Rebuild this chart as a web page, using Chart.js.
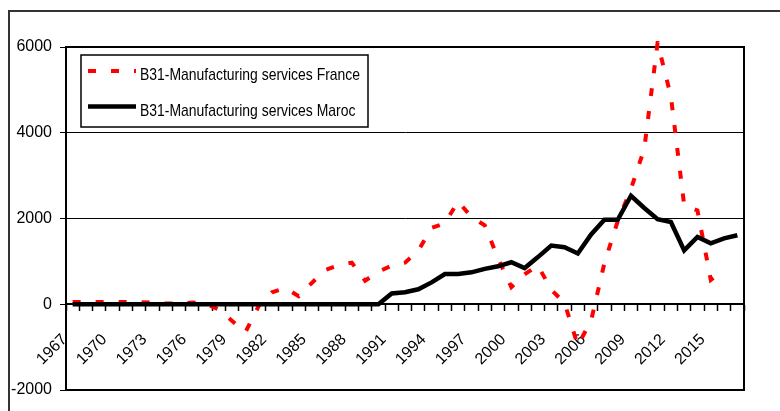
<!DOCTYPE html>
<html>
<head>
<meta charset="utf-8">
<script src="https://cdn.jsdelivr.net/npm/chart.js@4.4.0/dist/chart.umd.min.js"></script>
<style>
  html, body { margin: 0; padding: 0; background: #fff; overflow: hidden; }
  #wrap { position: relative; width: 780px; height: 411px; }
  #frame { position: absolute; left: 8px; top: 10px; width: 800px; height: 420px; border: 2px solid #333; pointer-events: none; }
  canvas { position: absolute; left: 0; top: 0; }
</style>
</head>
<body>
<div id="wrap">
  <canvas id="chart" width="780" height="411"></canvas>
  <div id="frame"></div>
</div>
<script>
// categories: one per year
const years = [
  '1967', '1968', '1969', '1970', '1971', '1972', '1973', '1974', '1975', '1976',
  '1977', '1978', '1979', '1980', '1981', '1982', '1983', '1984', '1985', '1986',
  '1987', '1988', '1989', '1990', '1991', '1992', '1993', '1994', '1995', '1996',
  '1997', '1998', '1999', '2000', '2001', '2002', '2003', '2004', '2005', '2006',
  '2007', '2008', '2009', '2010', '2011', '2012', '2013', '2014', '2015', '2016',
  '2017'
];

// only every third year gets a label on the axis
const shownYears = ['1967', '1970', '1973', '1976', '1979', '1982', '1985', '1988', '1991',
  '1994', '1997', '2000', '2003', '2006', '2009', '2012', '2015'];

const france = [
  50, 50, 50, 50, 50, 50, 40, 20, 10, 40,
  10, -120, -390, -650, -40, 280, 380, 190, 500, 800,
  910, 970, 550, 760, 900, 970, 1250, 1780, 1890, 2400,
  2030, 1840, 1070, 400, 700, 900, 340, 30, -960, -380,
  960, 1940, 2690, 3630, 6100, 4850, 2310, 2190, 570, 810,
  null
];

const maroc = [
  0, 0, 0, 0, 0, 0, 0, 0, 0, 0,
  0, 0, 0, 0, 0, 0, 0, 0, 0, 0,
  0, 0, 0, 0, 250, 280, 350, 510, 705, 705,
  745, 825, 885, 980, 845, 1100, 1370, 1330, 1185, 1630,
  1970, 1970, 2530, 2245, 1985, 1920, 1255, 1570, 1420, 1535,
  1610
];

const yMin = -2000;
const yMax = 6000;
const yStep = 2000;

// border round the plot area, drawn under the lines
const plotFrame = {
  id: 'plotFrame',
  beforeDatasetsDraw(chart) {
    const { ctx, chartArea: a } = chart;
    ctx.save();
    ctx.strokeStyle = '#000';
    ctx.lineWidth = 2;
    ctx.strokeRect(a.left, a.top, a.right - a.left, a.bottom - a.top);
    ctx.restore();
  }
};

// boxed legend in the top left corner of the plot, narrow text like the original
const boxLegend = {
  id: 'boxLegend',
  afterDraw(chart) {
    const { ctx, chartArea: a } = chart;
    const x = a.left + 15, y = a.top + 8, w = 287, h = 72;
    ctx.save();
    ctx.fillStyle = '#fff';
    ctx.fillRect(x, y, w, h);
    ctx.strokeStyle = '#000';
    ctx.lineWidth = 1.5;
    ctx.strokeRect(x, y, w, h);
    chart.data.datasets.forEach((ds, i) => {
      const ly = y + 16 + i * 35.5;
      ctx.beginPath();
      ctx.setLineDash(ds.borderDash || []);
      ctx.strokeStyle = ds.borderColor;
      ctx.lineWidth = ds.borderWidth;
      ctx.moveTo(x + 7, ly);
      ctx.lineTo(x + 55, ly);
      ctx.stroke();
      ctx.setLineDash([]);
      ctx.save();
      ctx.translate(x + 59, ly + 9);
      ctx.scale(0.82, 1);
      ctx.fillStyle = '#000';
      ctx.font = '17px "Liberation Sans", Arial, sans-serif';
      ctx.fillText(ds.label, 0, 0);
      ctx.restore();
    });
    ctx.restore();
  }
};

new Chart(document.getElementById('chart'), {
  type: 'line',
  data: {
    labels: years,
    datasets: [
      {
        label: 'B31-Manufacturing services France',
        data: france,
        borderColor: '#ff0000',
        borderWidth: 4,
        borderDash: [8, 15],
        pointRadius: 0,
        tension: 0,
        clip: 6,
        order: 1
      },
      {
        label: 'B31-Manufacturing services Maroc',
        data: maroc,
        borderColor: '#000000',
        borderWidth: 4.5,
        pointRadius: 0,
        tension: 0,
        order: 0
      }
    ]
  },
  options: {
    responsive: false,
    animation: false,
    devicePixelRatio: 1,
    layout: { padding: { top: 47, right: 36, bottom: 21, left: 0 } },
    plugins: {
      legend: { display: false },
      tooltip: { enabled: false }
    },
    scales: {
      x: {
        type: 'category',
        offset: true,
        position: { y: 0 },
        grid: {
          offset: true,
          drawOnChartArea: false,
          drawTicks: true,
          tickLength: 6,
          tickColor: '#000',
          tickWidth: 1.5
        },
        border: { display: true, color: '#000', width: 2 },
        ticks: {
          autoSkip: false,
          minRotation: 45,
          maxRotation: 45,
          padding: 20,
          labelOffset: -8,
          color: '#000',
          font: { family: '"Liberation Sans", Arial, sans-serif', size: 16 },
          callback: function (value) {
            const label = this.getLabelForValue(value);
            return shownYears.includes(label) ? label : '';
          }
        }
      },
      y: {
        min: yMin,
        max: yMax,
        ticks: {
          stepSize: yStep,
          color: '#000',
          padding: 8,
          font: { family: '"Liberation Sans", Arial, sans-serif', size: 16 },
          callback: (value) => String(value)
        },
        grid: { color: '#000', lineWidth: 1, tickLength: 6, tickColor: '#000' },
        border: { display: true, color: '#000', width: 2 },
        afterFit: (scale) => { scale.width = 66; }
      }
    }
  },
  plugins: [plotFrame, boxLegend]
});
</script>
</body>
</html>
